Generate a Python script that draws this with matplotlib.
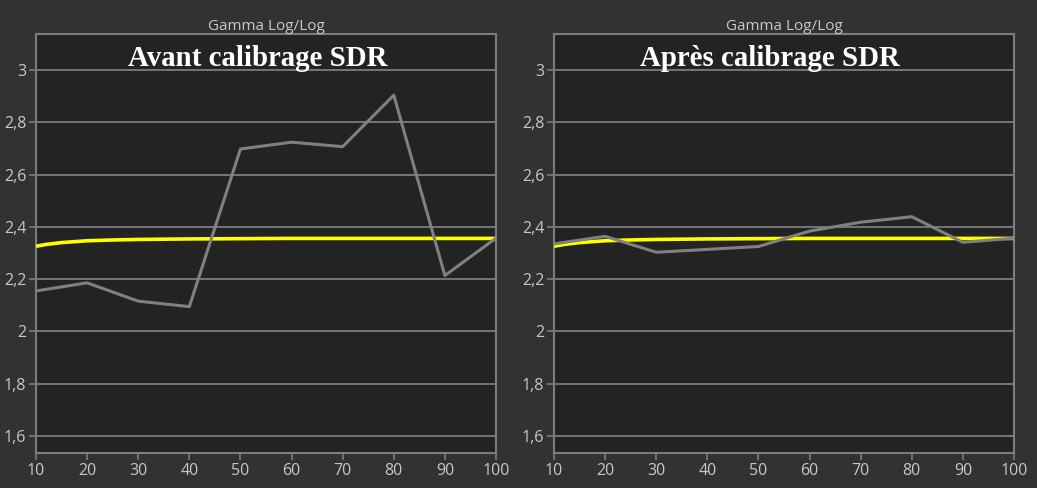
import matplotlib
matplotlib.use("Agg")
import matplotlib.pyplot as plt

x_levels = [10, 20, 30, 40, 50, 60, 70, 80, 90, 100]
gamma_before = [2.155, 2.186, 2.116, 2.095, 2.698, 2.724, 2.707, 2.904, 2.214, 2.357]
gamma_after = [2.335, 2.364, 2.303, 2.314, 2.325, 2.384, 2.418, 2.439, 2.341, 2.357]
target_x = [10, 12, 15, 20, 25, 30, 40, 50, 60, 70, 80, 90, 100]
target_gamma = [2.326, 2.333, 2.340, 2.347, 2.350, 2.352, 2.354, 2.355, 2.356, 2.356, 2.356, 2.356, 2.356]
y_ticks = [1.6, 1.8, 2.0, 2.2, 2.4, 2.6, 2.8, 3.0]
y_tick_labels = ["1,6", "1,8", "2", "2,2", "2,4", "2,6", "2,8", "3"]
panel_titles = ["Avant calibrage SDR", "Après calibrage SDR"]
chart_title = "Gamma Log/Log"

W, H = 1037, 488
fig = plt.figure(figsize=(W / 100, H / 100), dpi=100)
fig.patch.set_facecolor("#323232")

grid_c = "#7c7c7c"
text_c = "#c8c8c8"

def make_ax(x0, series, title, title_x):
    ax = fig.add_axes([x0 / W, 1 - 453 / H, 460 / W, 419 / H])
    ax.set_facecolor("#232323")
    ax.set_xlim(10, 100)
    ax.set_ylim(1.535, 3.138)
    ax.set_yticks(y_ticks)
    ax.set_yticklabels(y_tick_labels)
    ax.set_xticks(x_levels)
    ax.grid(axis="y", color=grid_c, linewidth=1.3)
    ax.set_axisbelow(True)
    for s in ax.spines.values():
        s.set_color(grid_c)
        s.set_linewidth(1.5)
    ax.tick_params(colors=grid_c, labelcolor=text_c, labelsize=11.5, length=5, width=1.2, pad=2)
    for lab in ax.get_xticklabels() + ax.get_yticklabels():
        lab.set_family("Open Sans")
    ax.plot(target_x, target_gamma, color="#ffff00", linewidth=2.6, solid_capstyle="butt", zorder=3)
    ax.plot(x_levels, series, color="#808080", linewidth=2.2, zorder=4)
    ax.set_title(chart_title, color=text_c, fontsize=11, family="Open Sans", pad=2)
    ax.text(title_x, 0.924, title, transform=ax.transAxes, ha="center", va="baseline",
            fontsize=20.8, fontweight="bold", family="Liberation Serif", color="white", zorder=5)
    return ax

make_ax(36, gamma_before, panel_titles[0], 0.4815)
make_ax(554, gamma_after, panel_titles[1], 0.4696)

fig.savefig("out.png", dpi=100, facecolor=fig.get_facecolor())
